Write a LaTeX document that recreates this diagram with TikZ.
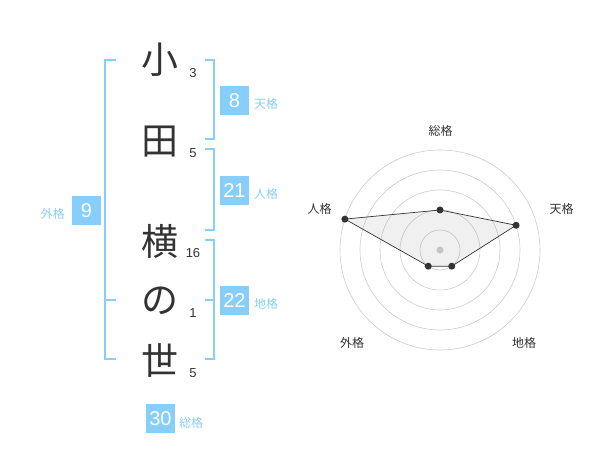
\documentclass[tikz,border=0pt]{standalone}
\usepackage{fontspec}
\setmainfont{Liberation Sans}
\newfontfamily\jp{Noto Sans CJK JP}
\definecolor{sky}{HTML}{87CEFA}
\definecolor{ink}{HTML}{333333}
\definecolor{ring}{HTML}{CCCCCC}
\tikzset{
  kanji/.style={font=\jp\fontsize{37}{37}\selectfont, text=ink, inner sep=0pt},
  strokes/.style={font=\fontsize{13}{13}\selectfont, text=ink, inner sep=0pt},
  score/.style={fill=sky, text=white, minimum width=29, minimum height=29, inner sep=0pt, font=\fontsize{20}{20}\selectfont},
  kaku/.style={font=\jp\fontsize{12}{12}\selectfont, text=sky, inner sep=0pt},
  axis/.style={font=\jp\fontsize{12}{12}\selectfont, text=ink, inner sep=0pt},
  brk/.style={draw=sky, line width=2},
  dot/.style={circle, fill=ink, inner sep=0pt, minimum size=7},
}
\begin{document}
\begin{tikzpicture}[x=1pt, y=-1pt]
\useasboundingbox (0,0) rectangle (600,470);
% name
\node [kanji] (c1) at (160,60) {小};
\node [kanji] (c2) at (160,142) {田};
\node [kanji] (c3) at (160,241) {横};
\node [kanji] (c4) at (160,301) {の};
\node [kanji] (c5) at (160,361) {世};
\node [strokes] (s1) at (193,73) {3};
\node [strokes] (s2) at (193,153) {5};
\node [strokes] (s3) at (193,253) {16};
\node [strokes] (s4) at (193,313) {1};
\node [strokes] (s5) at (193,373) {5};
% brackets
\draw [brk] (116,60) -- (105,60) -- (105,359) -- (116,359);
\draw [brk] (105,300) -- (116,300);
\draw [brk] (205,60) -- (214,60) -- (214,139) -- (205,139);
\draw [brk] (205,149) -- (214,149) -- (214,230) -- (205,230);
\draw [brk] (205,240) -- (214,240) -- (214,359) -- (205,359);
\draw [brk] (205,300) -- (214,300);
% scores
\node [score] (ten) at (234.5,100.5) {8};
\node [kaku, anchor=west] (tenL) at (254,104) {天格};
\node [score] (jin) at (234.5,190.5) {21};
\node [kaku, anchor=west] (jinL) at (254,194) {人格};
\node [score] (chi) at (234.5,300.5) {22};
\node [kaku, anchor=west] (chiL) at (254,304) {地格};
\node [score] (gai) at (86.5,210.5) {9};
\node [kaku, anchor=east] (gaiL) at (65,214) {外格};
\node [score] (sou) at (160.5,418.5) {30};
\node [kaku, anchor=west] (souL) at (179,423) {総格};
% radar
\begin{scope}[shift={(440,250)}, y=1pt]
\draw [ring, line width=0.6] (0,0) circle (20);
\draw [ring, line width=0.6] (0,0) circle (40);
\draw [ring, line width=0.6] (0,0) circle (60);
\draw [ring, line width=0.6] (0,0) circle (80);
\draw [ring, line width=0.6] (0,0) circle (100);
\fill [ring] (0,0) circle (3.5);
\coordinate (pSou) at (90:40);
\coordinate (pTen) at (18:80);
\coordinate (pChi) at (-54:20);
\coordinate (pGai) at (-126:20);
\coordinate (pJin) at (162:100);
\draw [fill=black!40, fill opacity=0.15, draw=ink, line width=0.7] (pSou) -- (pTen) -- (pChi) -- (pGai) -- (pJin) -- cycle;
\node [dot] at (pSou) {};
\node [dot] at (pTen) {};
\node [dot] at (pChi) {};
\node [dot] at (pGai) {};
\node [dot] at (pJin) {};
\end{scope}
\node [axis] (aSou) at (440.5,131) {総格};
\node [axis] (aTen) at (561.5,209) {天格};
\node [axis] (aJin) at (319.5,209) {人格};
\node [axis] (aGai) at (352,342.5) {外格};
\node [axis] (aChi) at (524,342.5) {地格};
\end{tikzpicture}
\end{document}
